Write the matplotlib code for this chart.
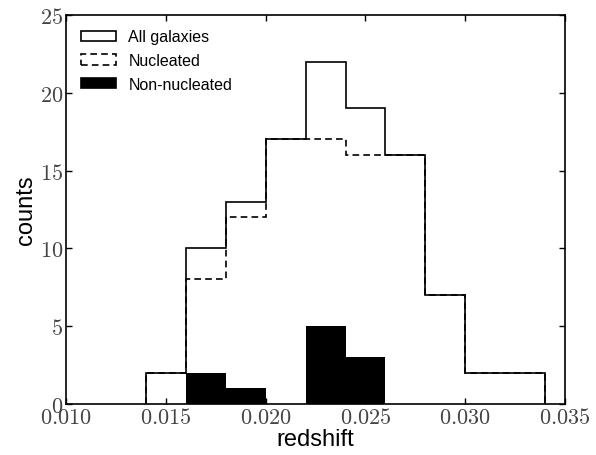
import matplotlib
matplotlib.use('Agg')
import matplotlib.pyplot as plt
from matplotlib.patches import Patch

plt.rcParams['mathtext.fontset'] = 'cm'
plt.rcParams['font.family'] = ['Liberation Sans', 'DejaVu Sans']

# redshift bins (width 0.002)
bin_edges = [0.014, 0.016, 0.018, 0.020, 0.022, 0.024, 0.026, 0.028, 0.030, 0.032, 0.034]
all_counts = [2, 10, 13, 17, 22, 19, 16, 7, 2, 2]
nucleated_counts = [2, 8, 12, 17, 17, 16, 16, 7, 2, 2]
non_nucleated_counts = [0, 2, 1, 0, 5, 3, 0, 0, 0, 0]

x_ticks = [0.010, 0.015, 0.020, 0.025, 0.030, 0.035]
y_ticks = [0, 5, 10, 15, 20, 25]

fig = plt.figure(figsize=(5.96, 4.56), dpi=100)
ax = fig.add_axes([0.111, 0.112, 0.837, 0.853])

lw = 1.2
ax.stairs(non_nucleated_counts, bin_edges, fill=True, color='black', zorder=1)
ax.stairs(nucleated_counts, bin_edges, color='black', linewidth=lw,
          linestyle=(0, (4, 2.5)), zorder=2)
ax.stairs(all_counts, bin_edges, color='black', linewidth=lw, zorder=3)

ax.set_xlim(0.010, 0.035)
ax.set_ylim(0, 25)
ax.set_xticks(x_ticks)
ax.set_xticklabels(['$%.3f$' % t for t in x_ticks])
ax.set_yticks(y_ticks)
ax.set_yticklabels(['$%d$' % t for t in y_ticks])
ax.tick_params(direction='in', top=True, right=True, length=4, width=1.0,
               labelsize=16, labelcolor='#444444', pad=2)
for s in ax.spines.values():
    s.set_linewidth(lw)

ax.set_xlabel('redshift', fontsize=17, labelpad=0)
ax.set_ylabel('counts', fontsize=17, labelpad=2)

handles = [
    Patch(facecolor='white', edgecolor='black', linewidth=lw),
    Patch(facecolor='white', edgecolor='black', linewidth=lw, linestyle=(0, (4, 2.5))),
    Patch(facecolor='black', edgecolor='black', linewidth=lw),
]
ax.legend(handles, ['All galaxies', 'Nucleated', 'Non-nucleated'], loc='upper left',
          frameon=False, fontsize=11.5, handlelength=2.2, handleheight=0.6,
          labelspacing=0.55, handletextpad=0.8, borderaxespad=0.5)

fig.savefig('out.png', dpi=100)
